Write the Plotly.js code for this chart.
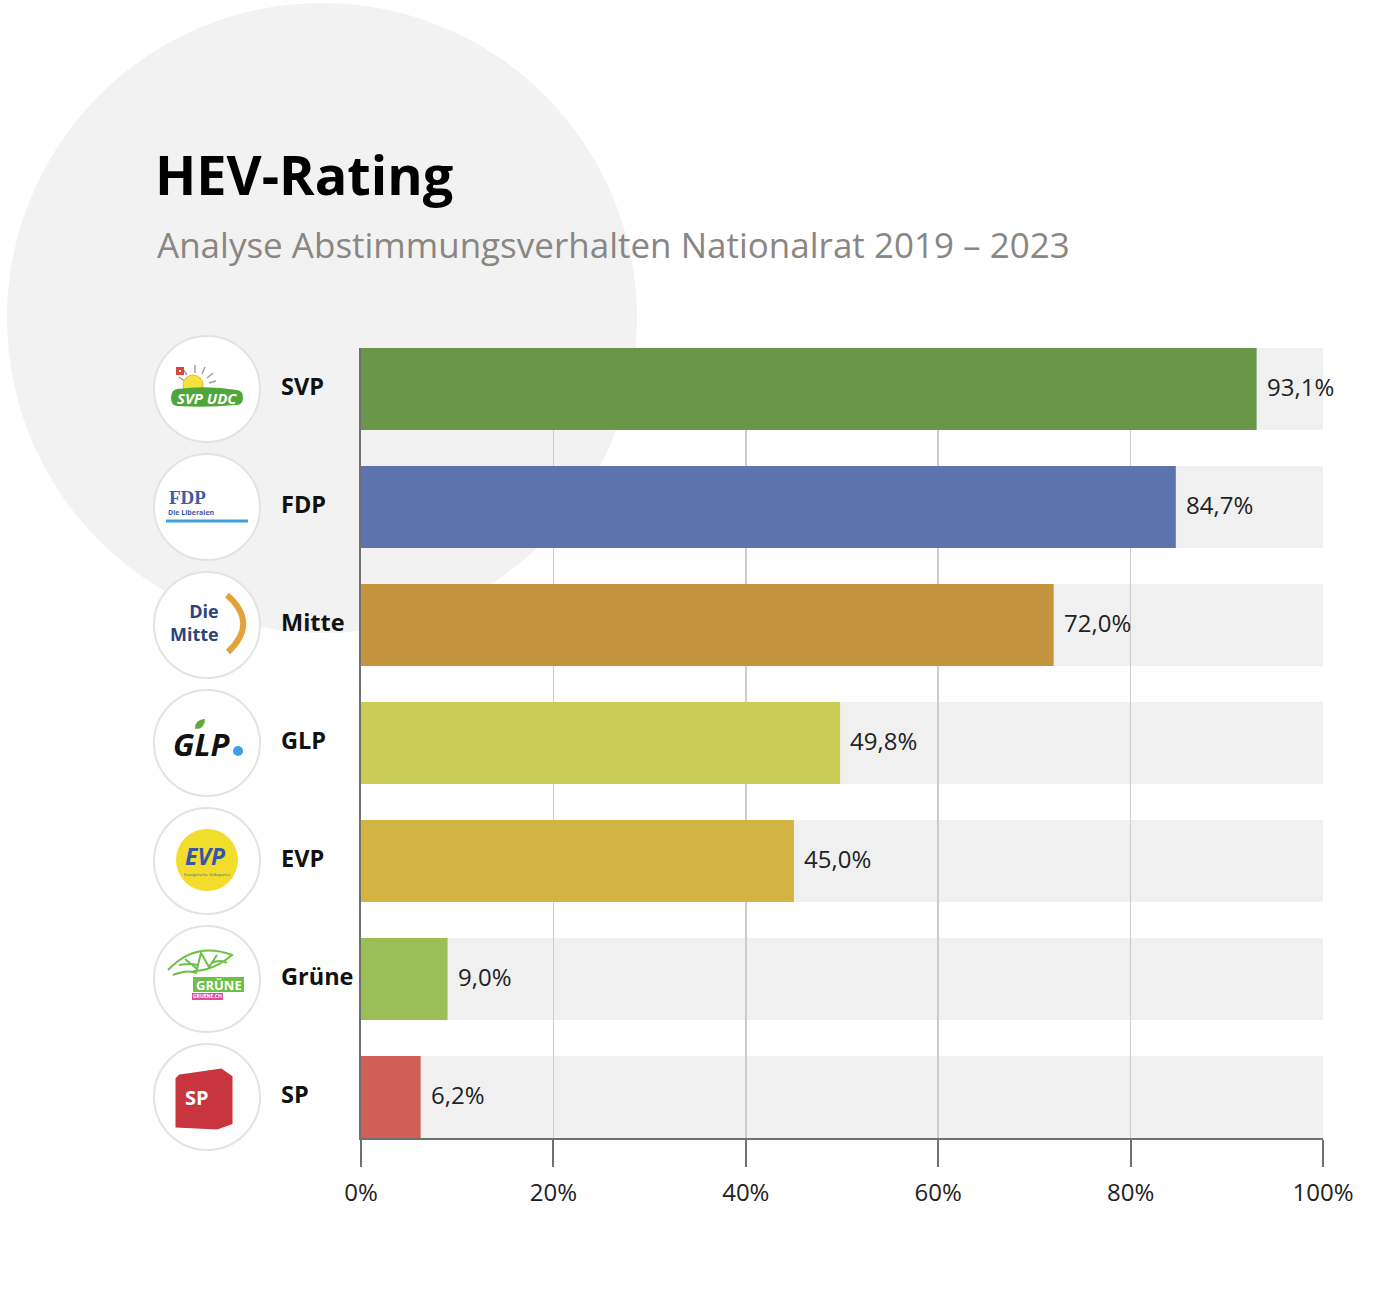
<!DOCTYPE html>
<html>
<head>
<meta charset="utf-8">
<script src="https://cdn.plot.ly/plotly-3.0.1.min.js"></script>
<style>
  html, body { margin: 0; padding: 0; background: #ffffff; }
  #chart { width: 1400px; height: 1292px; }
</style>
</head>
<body>
<div id="chart"></div>
<script>
// ---- data ----
const parties = ["SVP", "FDP", "Mitte", "GLP", "EVP", "Grüne", "SP"];
const ratings = [93.1, 84.7, 72.0, 49.8, 45.0, 9.0, 6.2];
const barColors = ["#6a9649", "#5c73ae", "#c4933e", "#c9cd55", "#d2b442", "#9cbe57", "#d05f57"];
const tickValues = [0, 20, 40, 60, 80, 100];
const tickLabels = ["0%", "20%", "40%", "60%", "80%", "100%"];
const titleText = "HEV-Rating";
const subtitleText = "Analyse Abstimmungsverhalten Nationalrat 2019 – 2023";

// ---- geometry ----
const W = 1400, H = 1292;
const M = { l: 361, r: 77, t: 348, b: 154 };
const PW = W - M.l - M.r, PH = H - M.t - M.b;
const BAR_W = 0.695;
const PAD = BAR_W / 2;
const yRange = [parties.length - 1 + PAD, -PAD];
const px2paperX = x => (x - M.l) / PW;
const px2paperY = y => (H - M.b - y) / PH;
const idx2paperY = i => (yRange[0] - i) / (yRange[0] - yRange[1]);
const fmt = v => v.toFixed(1).replace(".", ",") + "%";
const FONT = "Open Sans, Noto Sans, sans-serif";

// ---- traces ----
const traces = [{
  type: "bar",
  orientation: "h",
  y: parties,
  x: ratings,
  width: BAR_W,
  marker: { color: barColors, line: { width: 0 } },
  hoverinfo: "skip",
  showlegend: false
}];

// ---- shapes ----
const shapes = [];
// decorative big circle
shapes.push({
  type: "circle", xref: "paper", yref: "paper",
  xsizemode: "pixel", ysizemode: "pixel",
  xanchor: px2paperX(322), yanchor: px2paperY(318),
  x0: -315, x1: 315, y0: -315, y1: 315,
  fillcolor: "#f2f2f2", line: { width: 0 }, layer: "below"
});
// grey background bands (full 0..100 range)
parties.forEach((p, i) => {
  shapes.push({
    type: "rect", xref: "x", yref: "y",
    x0: tickValues[0], x1: tickValues[tickValues.length - 1],
    y0: i - PAD, y1: i + PAD,
    fillcolor: "#f0f0f0", line: { width: 0 }, layer: "below"
  });
});

const annotations = [];
const LOGO_X = px2paperX(207);

function pshape(i, o) {
  return Object.assign({
    xref: "paper", yref: "paper", xsizemode: "pixel", ysizemode: "pixel",
    xanchor: LOGO_X, yanchor: idx2paperY(i), layer: "above"
  }, o);
}
function ptext(i, text, dx, dy, font, extra) {
  annotations.push(Object.assign({
    xref: "paper", yref: "paper", x: LOGO_X, y: idx2paperY(i),
    xshift: dx, yshift: -dy, text: text, showarrow: false,
    xanchor: "center", yanchor: "middle", font: font, borderpad: 0
  }, extra || {}));
}

// logo circles
parties.forEach((p, i) => {
  shapes.push(pshape(i, {
    type: "circle", x0: -53, x1: 53, y0: -53, y1: 53,
    fillcolor: "#ffffff", line: { color: "#e3e3e3", width: 2 }
  }));
});

// SVP logo
shapes.push(pshape(0, { type: "path", path: "M -22,8 L -28,12 M -20,14 L -24,20 M -12,16 L -12,24 M -5,15 L -2,22 M 0,11 L 6,16 M 2,6 L 9,8", line: { color: "#a0a0a0", width: 1.5 } }));
shapes.push(pshape(0, { type: "circle", x0: -24, x1: -4, y0: -6, y1: 14, fillcolor: "#f5e23c", line: { color: "#d6c22c", width: 1 } }));
shapes.push(pshape(0, { type: "rect", x0: -31, x1: -23, y0: 14, y1: 22, fillcolor: "#d8453a", line: { width: 0 } }));
shapes.push(pshape(0, { type: "path", path: "M -28,18 L -26,18 M -27,17 L -27,19", line: { color: "#ffffff", width: 1.5 } }));
shapes.push(pshape(0, { type: "path", path: "M -30,0 Q 0,4 30,-1 Q 36,-2 36,-8 Q 36,-17 28,-16 Q 0,-19 -30,-17 Q -36,-16 -36,-9 Q -36,-1 -30,0 Z", fillcolor: "#4fa63a", line: { width: 0 } }));
ptext(0, "<b><i>SVP UDC</i></b>", 0, 9, { family: FONT, size: 15, color: "#ffffff" });

// FDP logo
ptext(1, "<b>FDP</b>", -20, -10, { family: "Liberation Serif, DejaVu Serif, serif", size: 19, color: "#3d5da5" });
ptext(1, "<b>Die Liberalen</b>", -16, 5, { family: FONT, size: 7, color: "#3d5da5" });
shapes.push(pshape(1, { type: "line", x0: -41, x1: 41, y0: -14, y1: -14, line: { color: "#3fa0e0", width: 3 } }));

// Mitte logo
ptext(2, "<b>Die<br>Mitte</b>", 13, -3, { family: FONT, size: 18, color: "#2d4478" }, { xanchor: "right", align: "right" });
shapes.push(pshape(2, { type: "path", path: "M 20,30 Q 52,2 21,-27", line: { color: "#e2a33b", width: 6 } }));

// GLP logo
ptext(3, "<b><i>GLP</i></b>", -6, 1, { family: FONT, size: 31, color: "#111111" });
shapes.push(pshape(3, { type: "circle", x0: 26, x1: 36, y0: -13, y1: -3, fillcolor: "#3a9fe8", line: { width: 0 } }));
shapes.push(pshape(3, { type: "path", path: "M -12,14 Q -12,24 -2,24 Q -2,14 -12,14 Z", fillcolor: "#5fa83a", line: { width: 0 } }));

// EVP logo
shapes.push(pshape(4, { type: "circle", x0: -31, x1: 31, y0: -30, y1: 32, fillcolor: "#f2dc2c", line: { width: 0 } }));
ptext(4, "<b><i>EVP</i></b>", -2, -5, { family: FONT, size: 23, color: "#3856a6" });
ptext(4, "Evangelische Volkspartei", 0, 14, { family: FONT, size: 4, color: "#3856a6" });

// Grüne logo
shapes.push(pshape(5, { type: "path", path: "M -39,9 Q -12,38 25,24 Q 6,8 -14,8 M -34,4 Q -20,10 -10,6 M -22,20 L -10,10 L -6,26 L 2,12 L 10,24 M -28,14 Q -16,16 -10,14 M 4,16 Q 14,20 20,16", line: { color: "#6cbf47", width: 2 } }));
shapes.push(pshape(5, { type: "rect", x0: -14, x1: 37, y0: -13, y1: 2, fillcolor: "#6cbf47", line: { width: 0 } }));
ptext(5, "<b>GRÜNE</b>", 11.5, 6, { family: FONT, size: 13, color: "#ffffff" });
shapes.push(pshape(5, { type: "rect", x0: -15, x1: 16, y0: -21, y1: -14, fillcolor: "#e24a9d", line: { width: 0 } }));
ptext(5, "<b>GRUENE.CH</b>", 0.5, 17.5, { family: FONT, size: 5, color: "#ffffff" });

// SP logo
shapes.push(pshape(6, { type: "path", path: "M -27,21 L 14,27 L 24,20 L 24,-26 L 10,-31 L -30,-29 L -30,18 Z", fillcolor: "#c8353f", line: { color: "#c8353f", width: 3 } }));
ptext(6, "<b>SP</b>", -10, 1, { family: FONT, size: 20, color: "#ffffff" });

// party names
parties.forEach((p, i) => {
  annotations.push({
    xref: "paper", yref: "y", x: px2paperX(281), y: p,
    text: "<b>" + p + "</b>", showarrow: false, xanchor: "left", yanchor: "middle",
    xshift: -1, yshift: 3, borderpad: 0,
    font: { family: FONT, size: 23.5, color: "#111111" }
  });
});
// value labels
parties.forEach((p, i) => {
  annotations.push({
    xref: "x", yref: "y", x: ratings[i], y: p,
    text: fmt(ratings[i]), showarrow: false, xanchor: "left", yanchor: "middle",
    xshift: 8, yshift: 3, font: { family: FONT, size: 24, color: "#222222" }
  });
});
// subtitle
annotations.push({
  xref: "paper", yref: "paper", x: px2paperX(155), y: px2paperY(245),
  text: subtitleText, showarrow: false, xanchor: "left", yanchor: "middle",
  font: { family: FONT, size: 35, color: "#8a8683" }
});

const layout = {
  width: W, height: H,
  margin: M,
  paper_bgcolor: "#ffffff",
  plot_bgcolor: "rgba(0,0,0,0)",
  title: {
    text: "<b>" + titleText + "</b>",
    xref: "container", yref: "container",
    x: 155 / W, xanchor: "left",
    y: 1 - 176 / H, yanchor: "middle",
    font: { family: FONT, size: 54, color: "#000000" }
  },
  barmode: "overlay",
  showlegend: false,
  xaxis: {
    range: [tickValues[0], tickValues[tickValues.length - 1]],
    tickvals: tickValues, ticktext: tickLabels,
    ticks: "outside", ticklen: 27, tickwidth: 2, tickcolor: "#707070",
    ticklabelstandoff: 5,
    showline: true, linecolor: "#707070", linewidth: 2,
    showgrid: true, gridcolor: "#cccccc", gridwidth: 1.5,
    zeroline: false,
    tickfont: { family: FONT, size: 24, color: "#222222" },
    fixedrange: true
  },
  yaxis: {
    type: "category",
    range: yRange,
    showticklabels: false, ticks: "",
    showline: true, linecolor: "#707070", linewidth: 2,
    showgrid: false, zeroline: false,
    fixedrange: true
  },
  shapes: shapes,
  annotations: annotations
};

Plotly.newPlot("chart", traces, layout, { displayModeBar: false, staticPlot: true });
</script>
</body>
</html>
